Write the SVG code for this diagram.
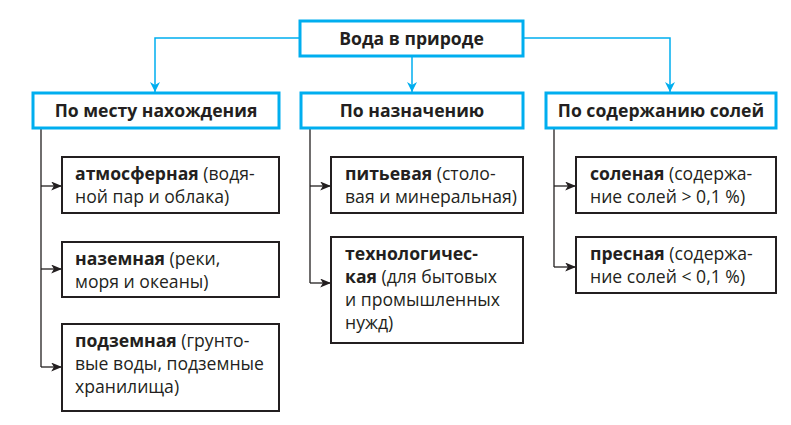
<svg xmlns="http://www.w3.org/2000/svg" width="791" height="425" viewBox="0 0 791 425">
<defs>
<marker id="ac" viewBox="0 0 10 10" refX="10" refY="5" markerWidth="10" markerHeight="10" markerUnits="userSpaceOnUse" orient="auto"><path d="M0,0 L10,5 L0,10 L3,5 Z" fill="#00aeef"/></marker>
<marker id="ak" viewBox="0 0 12 10" refX="12" refY="5" markerWidth="12" markerHeight="9" markerUnits="userSpaceOnUse" orient="auto"><path d="M0,0 L12,5 L0,10 L3,5 Z" fill="#231f20"/></marker>
</defs>
<style>
.c{fill:#fff;stroke:#00aeef;stroke-width:3}
.k{fill:#fff;stroke:#231f20;stroke-width:2}
text{font-family:"Open Sans","Noto Sans",sans-serif;font-size:17.6px;fill:#231f20}
.h{font-weight:bold;text-anchor:middle}
.b{font-weight:bold}
.lc{fill:none;stroke:#00aeef;stroke-width:1.5}
.lk{fill:none;stroke:#231f20;stroke-width:1.3}
</style>
<g id="connectors">
<path class="lc" d="M300,38 H155 V92" marker-end="url(#ac)"/>
<path class="lc" d="M412,56 V92" marker-end="url(#ac)"/>
<path class="lc" d="M523,38 H670 V92" marker-end="url(#ac)"/>
<path class="lk" d="M41,129 V367"/>
<path class="lk" d="M41,186 H62" marker-end="url(#ak)"/>
<path class="lk" d="M41,269 H62" marker-end="url(#ak)"/>
<path class="lk" d="M41,367 H62" marker-end="url(#ak)"/>
<path class="lk" d="M310,129 V283"/>
<path class="lk" d="M310,186 H331" marker-end="url(#ak)"/>
<path class="lk" d="M310,283 H331" marker-end="url(#ak)"/>
<path class="lk" d="M554,129 V267"/>
<path class="lk" d="M554,186 H576" marker-end="url(#ak)"/>
<path class="lk" d="M554,267 H576" marker-end="url(#ak)"/>
</g>
<g id="root"><rect class="c" x="300" y="21" width="223" height="35"/><text class="h" x="411.5" y="44.5">Вода в природе</text></g>
<g id="place"><rect class="c" x="33" y="93" width="246" height="35"/><text class="h" x="156" y="116.5">По месту нахождения</text></g>
<g id="purpose"><rect class="c" x="301" y="93" width="222" height="35"/><text class="h" x="412" y="116.5">По назначению</text></g>
<g id="salt"><rect class="c" x="546" y="93" width="230" height="35"/><text class="h" x="661" y="116.5">По содержанию солей</text></g>
<g id="atm"><rect class="k" x="62" y="157" width="217" height="56"/><text x="75" y="180"><tspan class="b">атмосферная</tspan> (водя-</text><text x="75" y="203">ной пар и облака)</text></g>
<g id="surf"><rect class="k" x="62" y="242" width="217" height="55"/><text x="75" y="265"><tspan class="b">наземная</tspan> (реки,</text><text x="75" y="288">моря и океаны)</text></g>
<g id="under"><rect class="k" x="62" y="324" width="217" height="87"/><text x="75" y="347"><tspan class="b">подземная</tspan> (грунто-</text><text x="75" y="370">вые воды, подземные</text><text x="75" y="393">хранилища)</text></g>
<g id="drink"><rect class="k" x="331" y="157" width="192" height="56"/><text x="345" y="180"><tspan class="b">питьевая</tspan> (столо-</text><text x="345" y="203">вая и минеральная)</text></g>
<g id="tech"><rect class="k" x="331" y="237" width="192" height="106"/><text x="345" y="260" class="b">технологичес-</text><text x="345" y="283"><tspan class="b">кая</tspan> (для бытовых</text><text x="345" y="306">и промышленных</text><text x="345" y="329">нужд)</text></g>
<g id="salty"><rect class="k" x="576" y="157" width="200" height="56"/><text x="590" y="180"><tspan class="b">соленая</tspan> (содержа-</text><text x="590" y="203">ние солей &gt; 0,1 %)</text></g>
<g id="fresh"><rect class="k" x="576" y="237" width="200" height="56"/><text x="590" y="260"><tspan class="b">пресная</tspan> (содержа-</text><text x="590" y="283">ние солей &lt; 0,1 %)</text></g>
</svg>
